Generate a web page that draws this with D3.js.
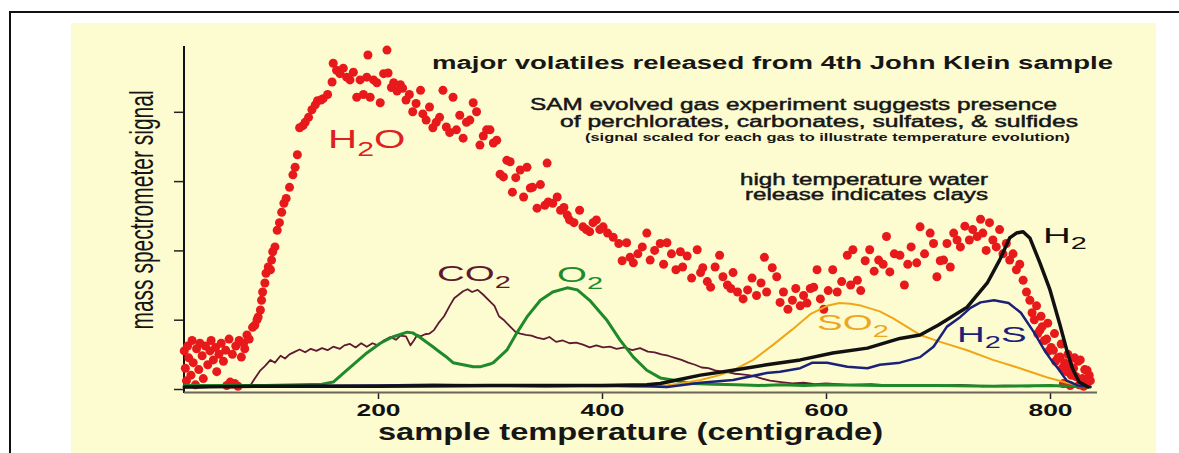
<!DOCTYPE html>
<html><head><meta charset="utf-8">
<script src="https://cdn.jsdelivr.net/npm/d3@7/dist/d3.min.js"></script>
<style>body{margin:0;background:#fff}svg{display:block}</style>
</head><body>
<svg id="chart" width="1179" height="453"></svg>
<script>
// ---------- DATA (sample temperature °C, scaled signal) ----------
const h2oTemp = [27,28,29,30,31,33,34,35,37,38,40,41,43,44,46,48,50,51,53,55,56,58,60,62,64,65,67,68,70,72,73,75,76,78,80,81,83,85,
88,90,92,93,95,96,97,99,100,102,104,105,106,108,110,112,114,116,118,121,124,126,128,130,133,135,138,141,144,146,149,151,155,159,160,163,166,169,172,175,178,181,184,187,190,191,193,196,199,202,205,208,209,212,214,217,220,222,225,228,231,234,238,240,243,246,249,252,255,258,261,264,267,270,273,276,279,282,285,288,291,294,297,300,303,306,309,312,315,318,320,323,327,330,333,336,338,342,345,349,351,352,356,360,363,366,369,371,375,380,383,386,389,392,395,398,401,405,410,415,418,422,425,428,432,436,440,443,447,452,455,458,462,466,470,472,476,480,485,488,490,494,497,501,505,508,512,515,517,521,526,530,534,538,542,545,547,552,556,559,562,566,570,573,577,580,583,586,589,592,595,598,602,606,610,614,619,622,624,628,631,635,639,643,647,651,654,657,661,666,670,673,676,681,684,688,693,696,699,702,705,708,711,714,717,720,724,728,731,735,738,740,743,746,749,752,755,758,761,764,767,770,773,776,779,782,784,786,788,789,791,792,793,795,797,798,799,801,803,804,805,807,809,810,811,812,813,815,816,817,818,819,821,822,823,825,826,827,829,830,831,833,834,835,836];
const h2oSignal = [0.55,0.30,0.12,0.62,0.45,0.20,0.70,0.38,0.06,0.58,0.28,0.66,0.48,0.15,0.62,0.35,0.55,0.70,0.42,0.60,0.25,0.50,0.66,0.40,0.56,0.05,0.72,0.10,0.50,0.08,0.62,0.04,0.70,0.46,0.66,0.58,0.78,0.72,
0.89,0.92,1.00,1.04,1.14,1.28,1.40,1.53,1.67,1.76,1.72,1.86,1.98,2.05,2.29,2.40,2.55,2.68,2.75,2.91,3.09,3.20,3.38,3.77,3.80,3.85,3.92,4.03,4.10,4.16,4.17,4.19,4.25,4.43,4.70,4.60,4.55,4.63,4.50,4.46,4.57,4.21,4.46,4.25,4.50,4.82,4.21,4.46,4.42,4.13,4.55,4.89,4.56,4.35,4.42,4.30,4.39,4.34,4.17,4.25,4.00,4.12,4.31,3.97,3.88,4.07,3.77,3.85,3.92,4.31,3.78,3.70,4.21,3.74,3.95,3.62,3.85,3.88,4.13,4.00,3.52,3.65,3.74,3.74,3.55,3.59,3.10,3.06,3.30,3.28,2.84,3.05,3.16,2.77,3.20,2.90,2.91,2.61,2.95,2.65,3.26,2.70,2.68,2.77,2.58,2.62,2.51,2.44,2.40,2.58,2.34,2.30,2.27,2.40,2.44,2.30,2.34,2.25,2.19,2.10,1.85,2.11,1.90,1.82,1.95,2.05,2.25,1.86,2.00,2.10,1.80,2.11,1.95,1.72,1.98,1.76,1.92,1.60,2.01,1.68,1.75,1.55,1.47,1.76,1.93,1.62,1.50,1.45,1.68,1.40,1.30,1.43,1.60,1.35,1.53,1.90,1.40,1.75,1.62,1.25,1.40,1.15,1.28,1.45,1.20,1.35,1.24,1.45,1.47,1.72,1.30,1.15,1.42,1.72,1.40,1.55,1.93,1.50,2.01,1.57,1.42,1.85,2.01,1.70,1.86,1.80,2.20,1.69,1.95,1.93,1.50,1.80,2.05,1.82,2.34,1.95,2.25,2.10,1.62,1.85,1.86,2.10,1.76,2.25,2.15,2.05,2.35,2.15,2.30,2.20,2.45,2.25,2.00,2.40,2.15,2.05,2.30,1.95,2.10,1.86,1.95,1.72,1.80,1.57,1.40,1.28,1.10,1.00,1.20,0.80,0.85,1.05,0.90,0.70,0.72,0.95,0.55,0.60,0.56,0.80,0.40,0.45,0.46,0.65,0.30,0.08,0.38,0.25,0.50,0.35,0.05,0.20,0.30,0.45,0.18,0.40,0.06,0.42,0.15,0.04,0.28,0.27,0.10,0.20,0.12];

const co2Temp = [27,40,55,70,80,86,90,95,99,104,108,113,117,121,126,130,135,140,145,150,155,160,166,170,175,180,185,190,195,200,205,211,216,220,225,229,232,235,238,242,246,250,254,259,264,268,272,276,280,284,289,294,299,304,308,312,318,323,327,332,337,342,348,353,359,365,371,377,383,389,395,401,407,413,420,427,434,441,447,453,459,465,471,477,483,489,495,501,507,513,519,525,531,537,543,550,560,570,580,590,600,620,640,660,680,700,720,740,760,780,800,820,836];
const co2Signal = [0.03,0.02,0.03,0.02,0.03,0.05,0.15,0.27,0.33,0.42,0.38,0.48,0.44,0.50,0.54,0.57,0.53,0.58,0.55,0.59,0.56,0.61,0.58,0.63,0.65,0.60,0.66,0.61,0.66,0.63,0.70,0.75,0.71,0.77,0.76,0.63,0.70,0.78,0.76,0.79,0.80,0.85,0.95,1.05,1.20,1.31,1.36,1.41,1.44,1.40,1.43,1.36,1.28,1.20,1.05,1.00,0.90,0.82,0.80,0.78,0.77,0.74,0.72,0.75,0.68,0.70,0.66,0.67,0.64,0.60,0.63,0.60,0.61,0.58,0.60,0.56,0.59,0.54,0.53,0.50,0.48,0.45,0.42,0.38,0.35,0.31,0.30,0.27,0.25,0.24,0.22,0.21,0.20,0.18,0.15,0.12,0.10,0.08,0.09,0.07,0.08,0.06,0.07,0.05,0.06,0.05,0.06,0.04,0.05,0.04,0.05,0.03,0.03];

const o2Temp = [27,60,100,130,150,160,172,190,202,213,226,231,237,249,253,262,267,276,285,291,300,303,315,324,333,345,356,369,378,389,404,416,428,440,452,463,480,500,520,540,560,580,600,650,700,750,800,836];
const o2Signal = [0.05,0.05,0.05,0.06,0.07,0.10,0.27,0.52,0.66,0.75,0.82,0.81,0.75,0.61,0.56,0.45,0.38,0.35,0.32,0.32,0.36,0.38,0.56,0.81,1.04,1.28,1.40,1.46,1.43,1.28,1.00,0.71,0.46,0.27,0.16,0.13,0.08,0.07,0.06,0.05,0.06,0.05,0.06,0.05,0.05,0.04,0.05,0.03];

const so2Temp = [27,100,200,300,380,430,452,470,488,505,517,535,553,570,586,601,612,622,632,648,660,672,684,702,726,749,773,797,815,833];
const so2Signal = [0.04,0.04,0.04,0.04,0.04,0.03,0.04,0.08,0.13,0.20,0.27,0.42,0.64,0.86,1.08,1.20,1.24,1.23,1.20,1.12,1.02,0.90,0.78,0.68,0.56,0.42,0.30,0.17,0.09,0.03];

const h2Temp = [27,100,200,300,400,440,452,467,488,517,547,577,606,637,666,684,700,708,726,744,755,764,770,776,782,791,800,809,815,820,826,834];
const h2Signal = [0.03,0.04,0.04,0.05,0.05,0.06,0.08,0.13,0.20,0.27,0.35,0.42,0.52,0.59,0.73,0.78,0.92,1.00,1.18,1.53,1.86,2.18,2.25,2.27,2.18,1.82,1.43,0.92,0.56,0.30,0.10,0.03];

const h2sTemp = [27,100,200,250,300,350,400,440,458,488,517,547,559,577,588,601,619,637,648,666,684,696,708,720,729,738,750,763,774,786,795,801,807,815,825,836];
const h2sSignal = [0.03,0.04,0.05,0.06,0.05,0.04,0.05,0.04,0.03,0.09,0.13,0.23,0.25,0.30,0.38,0.38,0.32,0.30,0.35,0.38,0.46,0.61,0.90,1.04,1.17,1.25,1.28,1.24,1.10,0.81,0.56,0.42,0.30,0.12,0.05,0.03];

const xTickValues = [200, 400, 600, 800];
const yTickValues = [0, 1, 2, 3, 4];

// ---------- CHART ----------
const svg = d3.select("#chart");
svg.append("rect").attr("x", 10).attr("y", 12).attr("width", 1200).attr("height", 500)
  .attr("fill", "#fff").attr("stroke", "#111").attr("stroke-width", 2);
svg.append("rect").attr("x", 71).attr("y", 23).attr("width", 1085).attr("height", 440)
  .attr("fill", "#fdfbd0");

const x = d3.scaleLinear().domain([0, 800]).range([154, 1050]);
const y = d3.scaleLinear().domain([0, 4]).range([389, 111.8]);

// axes
const yAx = svg.append("g").attr("transform", "translate(184,0)")
  .call(d3.axisLeft(y).tickValues(yTickValues).tickSize(10).tickFormat(""));
yAx.select(".domain").remove();
yAx.selectAll(".tick line").attr("stroke", "#222").attr("stroke-width", 1.5);
svg.append("line").attr("x1", 184).attr("x2", 184).attr("y1", y(4.95)).attr("y2", 393)
  .attr("stroke", "#111").attr("stroke-width", 2);

const xAx = svg.append("g").attr("transform", "translate(0,393)")
  .call(d3.axisBottom(x).tickValues(xTickValues).tickSize(6).tickSizeOuter(0));
xAx.select(".domain").remove();
xAx.selectAll(".tick line").attr("stroke", "#222").attr("stroke-width", 1.5);
xAx.selectAll(".tick text").attr("y", 23).attr("dy", 0)
  .attr("font-family", "Liberation Sans, Arial, sans-serif").attr("font-weight", "bold")
  .attr("font-size", 16).attr("fill", "#111")
  .attr("textLength", 44).attr("lengthAdjust", "spacingAndGlyphs");
svg.append("line").attr("x1", 184).attr("x2", x(842)).attr("y1", 392.5).attr("y2", 392.5)
  .attr("stroke", "#6b6457").attr("stroke-width", 2);

// H2O dots
const plot = svg.append("g");
plot.selectAll("circle.h2o").data(d3.zip(h2oTemp, h2oSignal)).join("circle")
  .attr("class", "h2o").attr("cx", d => x(d[0])).attr("cy", d => y(d[1])).attr("r", 4.5)
  .attr("fill", "#e8191b");

const line = d3.line().x(d => x(d[0])).y(d => y(d[1]));
function drawSeries(t, v, color, w) {
  plot.append("path").datum(d3.zip(t, v)).attr("d", line)
    .attr("fill", "none").attr("stroke", color).attr("stroke-width", w)
    .attr("stroke-linejoin", "round").attr("stroke-linecap", "round");
}
drawSeries(co2Temp, co2Signal, "#5e1a30", 1.8);
drawSeries(o2Temp, o2Signal, "#1f8a2c", 3);
drawSeries(so2Temp, so2Signal, "#f0a616", 2);
drawSeries(h2sTemp, h2sSignal, "#1c2178", 2.5);
drawSeries(h2Temp, h2Signal, "#111111", 3.5);

// labels
function chem(parts, t, v, color, F, sx) {
  const tx = svg.append("text")
    .attr("transform", `translate(${x(t)},${y(v)}) scale(${sx},1)`)
    .attr("font-family", "Liberation Sans, Arial, sans-serif").attr("font-size", F).attr("fill", color);
  let shifted = false;
  parts.forEach(p => {
    const sub = p[1] === 1;
    const dy = sub && !shifted ? F * 0.3 : (!sub && shifted ? -F * 0.3 : 0);
    shifted = sub;
    tx.append("tspan").attr("dy", dy).attr("font-size", sub ? F * 0.75 : F).text(p[0]);
  });
}
chem([["H",0],["2",1],["O",0]], 155.4, 3.48, "#e0201e", 26, 1.55);
chem([["CO",0],["2",1]], 252.7, 1.56, "#5e1a2c", 22, 1.75);
chem([["O",0],["2",1]], 359.8, 1.54, "#1f8a2c", 22, 1.75);
chem([["SO",0],["2",1]], 592, 0.85, "#eea61e", 22, 1.75);
chem([["H",0],["2",1],["S",0]], 717, 0.68, "#1c2178", 22, 1.75);
chem([["H",0],["2",1]], 793.75, 2.11, "#111", 22, 1.75);

function txt(s, x0, yb, F, len, weight, extra) {
  const t = svg.append("text").attr("x", x0).attr("y", yb)
    .attr("font-family", "Liberation Sans, Arial, sans-serif").attr("font-size", F)
    .attr("font-weight", weight).attr("fill", "#161616")
    .attr("textLength", len).attr("lengthAdjust", "spacingAndGlyphs").text(s);
  if (extra) t.attr("stroke", "#161616").attr("stroke-width", extra);
  return t;
}
txt("major volatiles released from 4th John Klein sample", 432, 69, 18, 681, "bold");
txt("SAM evolved gas experiment suggests presence", 530, 110, 16, 527, "normal", 0.45);
txt("of perchlorates, carbonates,  sulfates, & sulfides", 560, 127, 16, 518, "normal", 0.45);
txt("(signal scaled for each gas to illustrate temperature evolution)", 585, 141, 10, 485, "bold");
txt("high temperature water", 740, 185, 16, 248, "normal", 0.45);
txt("release indicates clays", 745, 200, 16, 243, "normal", 0.45);
txt("sample temperature (centigrade)", 378, 440, 24, 505, "bold");

// y-axis title: condensed look via a cross-axis stretch
svg.append("text").attr("transform", "translate(153,210) rotate(-90) scale(1,1.6)")
  .attr("text-anchor", "middle")
  .attr("font-family", "Liberation Sans, Arial, sans-serif").attr("font-size", 21)
  .attr("fill", "#161616")
  .text("mass spectrometer signal");
</script>
</body></html>
